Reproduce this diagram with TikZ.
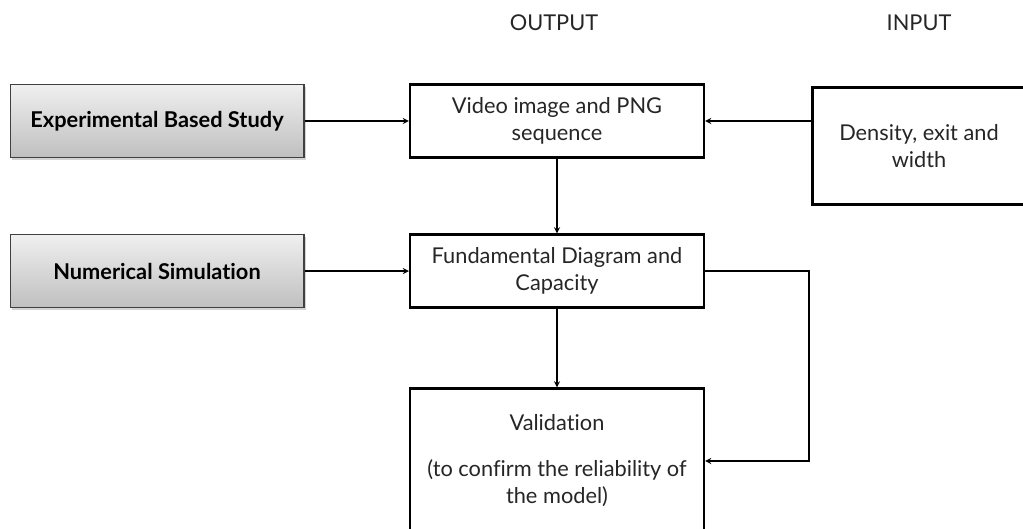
\documentclass[tikz,border=0pt]{standalone}
\usepackage{fontspec}
\setmainfont{Lato}[Ligatures={NoCommon}]
\usetikzlibrary{arrows.meta,shadows}
\tikzset{>=stealth}
\newcommand{\boxfont}{\fontsize{12.4}{15.4}\selectfont}
\tikzset{
  greybox/.style={draw=black!75, line width=0.6pt, top color=black!6, bottom color=black!25,
    minimum width=5.88cm, minimum height=1.46cm, font=\boxfont\bfseries,
    drop shadow={shadow xshift=1.2pt, shadow yshift=-1.2pt, opacity=0.35}},
  whitebox/.style={draw, line width=1.2pt, fill=white, minimum width=5.88cm,
    minimum height=1.46cm, align=center, text=black!85},
  conn/.style={->, line width=0.6pt}
}

\begin{document}
\begin{tikzpicture}[x=0.02cm, y=-0.02cm, font=\boxfont]
\useasboundingbox (0,0) rectangle (1023,528);
% column heads
\node[text=black!85] (outhead) at (554,23) {OUTPUT};
\node[text=black!85] (inhead) at (919,23) {INPUT};
% left side
\node[greybox] (exp) at (157,121) {Experimental Based Study};
\node[greybox] (num) at (157,271) {Numerical Simulation};
% middle column
\node[whitebox] (vid) at (557,121) {Video image and PNG\\sequence};
\node[whitebox] (fund) at (557,271) {Fundamental Diagram and\\Capacity};
\node[whitebox, minimum height=2.9cm] (valid) at (557,461) {Validation\\[0.38cm](to confirm the reliability of\\the model)};
% input
\node[whitebox, minimum width=4.26cm, minimum height=2.34cm] (dens) at (919,146) {Density, exit and\\width};
\coordinate (back) at (809,271);
% arrows
\draw[conn] (exp) -- (vid);
\draw[conn] (dens.west |- vid.east) -- (vid.east);
\draw[conn] (vid) -- (fund);
\draw[conn] (num) -- (fund);
\draw[conn] (fund) -- (valid);
\draw[conn] (fund.east) -- (back) |- (valid.east);
\end{tikzpicture}
\end{document}
